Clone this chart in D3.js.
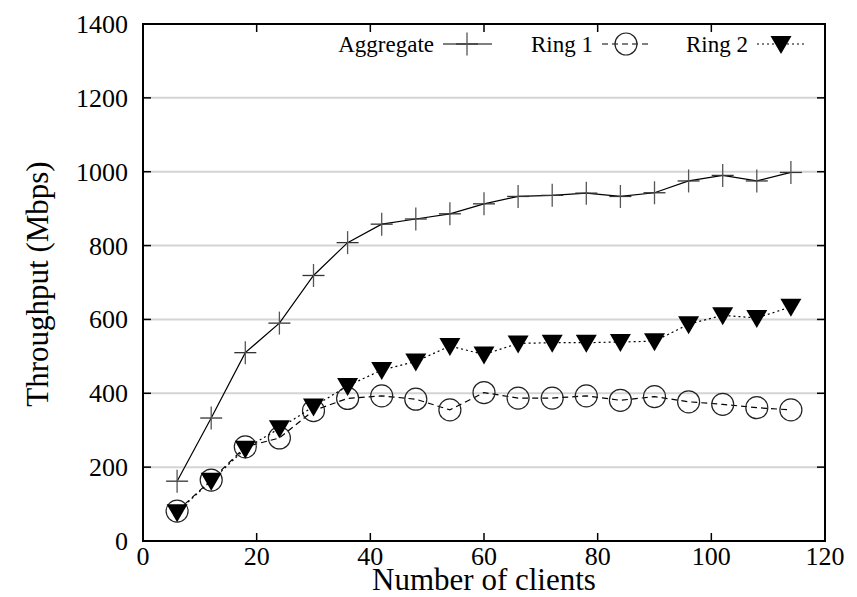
<!DOCTYPE html>
<html>
<head>
<meta charset="utf-8">
<script src="https://cdn.jsdelivr.net/npm/d3@7"></script>
<style>
  body { margin: 0; background: #fff; }
  text { font-family: "Liberation Serif", "Times New Roman", serif; fill: #000; }
</style>
</head>
<body>
<div id="chart"></div>
<script>
const clients = [6, 12, 18, 24, 30, 36, 42, 48, 54, 60, 66, 72, 78, 84, 90, 96, 102, 108, 114];
const aggregate = [162, 333, 510, 590, 719, 808, 858, 872, 886, 913, 933, 936, 942, 933, 943, 975, 990, 975, 998];
const ring1 = [81, 165, 255, 279, 353, 386, 393, 384, 355, 402, 387, 387, 393, 381, 391, 377, 370, 361, 355];
const ring2 = [78, 163, 250, 305, 364, 420, 463, 486, 528, 505, 535, 537, 537, 539, 541, 587, 611, 604, 634];
const xTicks = [0, 20, 40, 60, 80, 100, 120];
const yTicks = [0, 200, 400, 600, 800, 1000, 1200, 1400];

const width = 857, height = 597;
const margin = {left: 143, top: 24, right: 32, bottom: 56};

const svg = d3.select("#chart").append("svg")
    .attr("width", width)
    .attr("height", height);

const x = d3.scaleLinear().domain([0, 120]).range([margin.left, width - margin.right]);
const y = d3.scaleLinear().domain([0, 1400]).range([height - margin.bottom, margin.top]);

// grid
svg.selectAll(".grid")
    .data(yTicks.slice(1, -1))
    .enter().append("line")
    .attr("x1", x(0)).attr("x2", x(120))
    .attr("y1", d => y(d)).attr("y2", d => y(d))
    .attr("stroke", "#d4d4d4")
    .attr("stroke-width", 2);

// ticks inside on all four sides
const tickLen = 8;
const tickStyle = sel => sel.attr("stroke", "#000").attr("stroke-width", 1.5);
svg.selectAll(".xt").data(xTicks.slice(1, -1)).enter().append("line")
    .attr("x1", d => x(d)).attr("x2", d => x(d))
    .attr("y1", y(0)).attr("y2", y(0) - tickLen).call(tickStyle);
svg.selectAll(".xt2").data(xTicks.slice(1, -1)).enter().append("line")
    .attr("x1", d => x(d)).attr("x2", d => x(d))
    .attr("y1", y(1400)).attr("y2", y(1400) + tickLen).call(tickStyle);
svg.selectAll(".yt").data(yTicks.slice(1, -1)).enter().append("line")
    .attr("x1", x(0)).attr("x2", x(0) + tickLen)
    .attr("y1", d => y(d)).attr("y2", d => y(d)).call(tickStyle);
svg.selectAll(".yt2").data(yTicks.slice(1, -1)).enter().append("line")
    .attr("x1", x(120)).attr("x2", x(120) - tickLen)
    .attr("y1", d => y(d)).attr("y2", d => y(d)).call(tickStyle);

// tick labels
svg.selectAll(".xl").data(xTicks).enter().append("text")
    .attr("x", d => x(d))
    .attr("y", y(0) + 24)
    .attr("text-anchor", "middle")
    .style("font-size", "26px")
    .text(d => d);
svg.selectAll(".yl").data(yTicks).enter().append("text")
    .attr("x", x(0) - 15)
    .attr("y", d => y(d) + 9)
    .attr("text-anchor", "end")
    .style("font-size", "26px")
    .text(d => d);

// axis titles
svg.append("text")
    .attr("x", (x(0) + x(120)) / 2)
    .attr("y", 590)
    .attr("text-anchor", "middle")
    .style("font-size", "31px")
    .text("Number of clients");
svg.append("text")
    .attr("transform", "translate(48,284) rotate(-90)")
    .attr("text-anchor", "middle")
    .style("font-size", "31px")
    .text("Throughput (Mbps)");

// lines
const line = d3.line().x(d => x(d[0])).y(d => y(d[1]));
const series = [
    {name: "Aggregate", values: aggregate, dash: null, mark: "plus"},
    {name: "Ring 1", values: ring1, dash: "6,4", mark: "circle"},
    {name: "Ring 2", values: ring2, dash: "2,3", mark: "tri"}
];

const triPath = "M-10.5,-8L10.5,-8L0,10Z";

function drawMark(g, type) {
    if (type === "plus") {
        g.append("line").attr("x1", -11).attr("x2", 11).attr("y1", 0).attr("y2", 0)
            .attr("stroke", "#333").attr("stroke-width", 1.3);
        g.append("line").attr("x1", 0).attr("x2", 0).attr("y1", -11.5).attr("y2", 11.5)
            .attr("stroke", "#555").attr("stroke-width", 1.3);
    } else if (type === "circle") {
        g.append("circle").attr("r", 11).attr("fill", "none")
            .attr("stroke", "#222").attr("stroke-width", 1.2);
    } else {
        g.append("path").attr("d", triPath).attr("fill", "#000");
    }
}

series.forEach(s => {
    const pts = clients.map((c, i) => [c, s.values[i]]);
    svg.append("path")
        .attr("d", line(pts))
        .attr("fill", "none")
        .attr("stroke", "#000")
        .attr("stroke-width", 1.2)
        .attr("stroke-dasharray", s.dash);
    pts.forEach(p => {
        const g = svg.append("g").attr("transform", "translate(" + x(p[0]) + "," + y(p[1]) + ")");
        drawMark(g, s.mark);
    });
});

// legend
const legendEnds = [434, 593, 748];
series.forEach((s, i) => {
    const lx = legendEnds[i];
    const ly = 44;
    svg.append("text")
        .attr("x", lx)
        .attr("y", ly + 8)
        .attr("text-anchor", "end")
        .style("font-size", "23px")
        .text(s.name);
    svg.append("line")
        .attr("x1", lx + 9).attr("x2", lx + 58)
        .attr("y1", ly).attr("y2", ly)
        .attr("stroke", "#000").attr("stroke-width", 1.2)
        .attr("stroke-dasharray", s.dash);
    const g = svg.append("g").attr("transform", "translate(" + (lx + 33) + "," + ly + ")");
    drawMark(g, s.mark);
});

// frame
svg.append("rect")
    .attr("x", x(0)).attr("y", y(1400))
    .attr("width", x(120) - x(0)).attr("height", y(0) - y(1400))
    .attr("fill", "none")
    .attr("stroke", "#000")
    .attr("stroke-width", 2);
</script>
</body>
</html>
